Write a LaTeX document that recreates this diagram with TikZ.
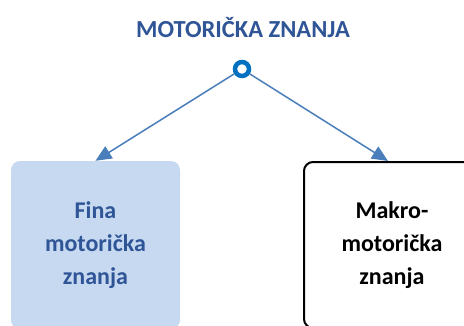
\documentclass[tikz,border=0pt]{standalone}
\usepackage{fontspec}
\setmainfont{Carlito}
\usetikzlibrary{arrows.meta}
\definecolor{titleblue}{HTML}{2F5597}
\definecolor{linkblue}{HTML}{4A7EBB}
\definecolor{hubblue}{HTML}{0070C0}
\definecolor{boxfill}{HTML}{C6D9F1}
\tikzset{
  boxtext/.style={font=\bfseries\fontsize{24}{33}\selectfont, align=center, inner sep=0pt},
  linkarrow/.style={draw=linkblue, line width=1.5pt, -{Triangle[length=16pt,width=14pt]}, fill=linkblue},
}
\begin{document}
\begin{tikzpicture}[x=1pt,y=1pt]
\clip (0,0) rectangle (464,-325);
\node[font=\bfseries\fontsize{24.5}{28}\selectfont, text=titleblue, inner sep=0pt] (title) at (243,-28) {MOTORIČKA ZNANJA};
\node[circle, draw=hubblue, line width=4.5pt, fill=white, minimum size=14pt, inner sep=0pt] (hub) at (242,-69) {};
\node[boxtext, fill=boxfill, rounded corners=9pt, minimum width=169pt, minimum height=168pt, text=titleblue] (fine) at (95.5,-245) {Fina\\motorička\\znanja};
\node[boxtext, draw=black, line width=2pt, fill=white, rounded corners=9pt, minimum width=176pt, minimum height=166pt, text=black] (macro) at (392,-245) {Makro-\\motorička\\znanja};
\draw[linkarrow] (hub) -- (fine.north);
\draw[linkarrow] (hub) -- ([xshift=-4pt]macro.north);
\end{tikzpicture}
\end{document}
